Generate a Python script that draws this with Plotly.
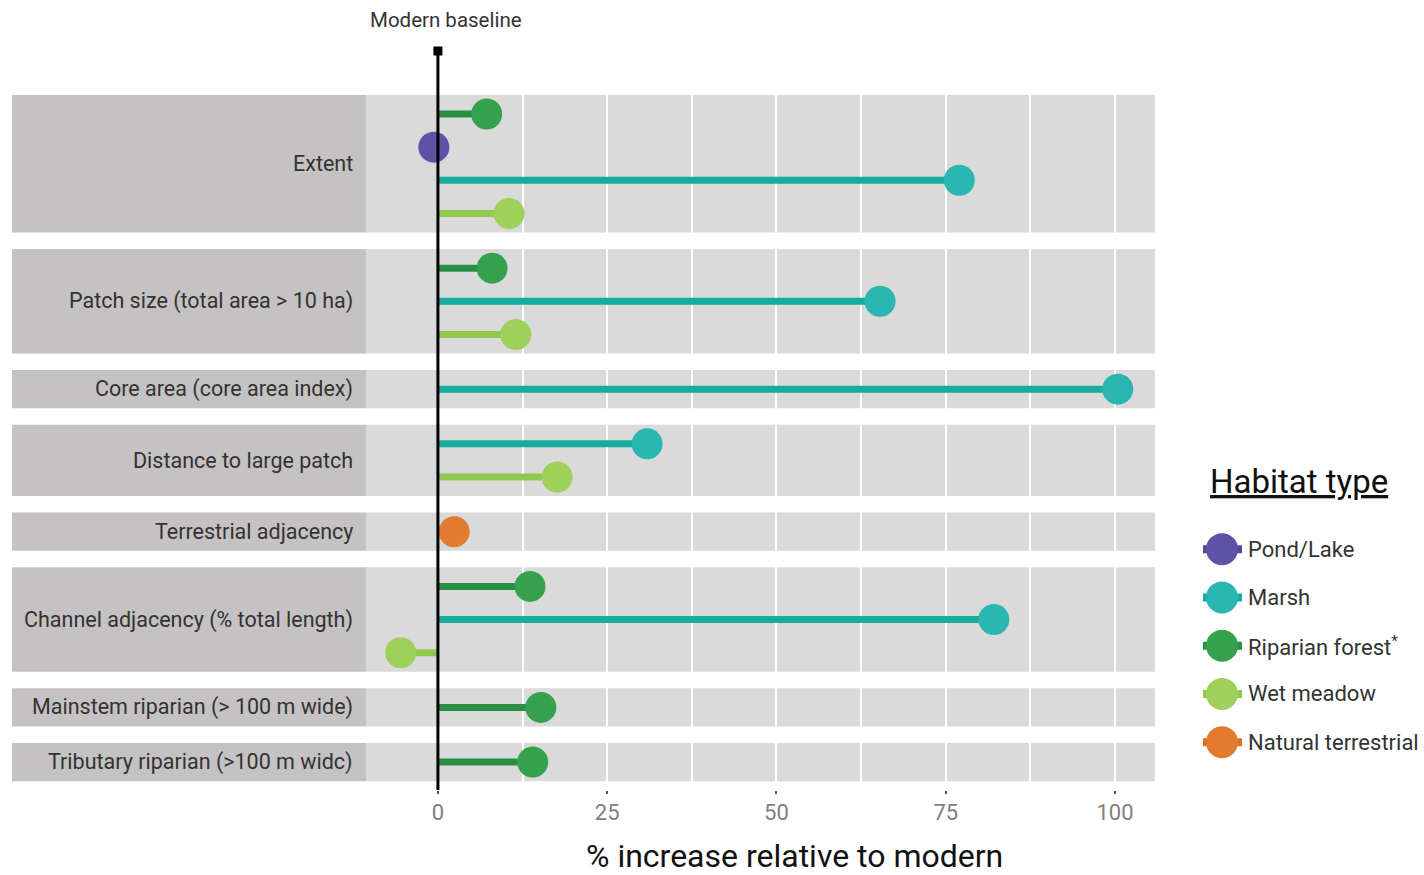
import plotly.graph_objects as go

# ---- data -------------------------------------------------------------
metrics = [
    "Extent",
    "Patch size (total area > 10 ha)",
    "Core area (core area index)",
    "Distance to large patch",
    "Terrestrial adjacency",
    "Channel adjacency (% total length)",
    "Mainstem riparian (> 100 m wide)",
    "Tributary riparian (>100 m widc)",
]

habitats = ["Pond/Lake", "Marsh", "Riparian forest*", "Wet meadow", "Natural terrestrial"]
legend_labels = ["Pond/Lake", "Marsh", "Riparian forest<sup>*</sup>", "Wet meadow", "Natural terrestrial"]

# habitats shown within each metric (top to bottom) and their % increase
metric_habitats = [
    ["Riparian forest*", "Pond/Lake", "Marsh", "Wet meadow"],
    ["Riparian forest*", "Marsh", "Wet meadow"],
    ["Marsh"],
    ["Marsh", "Wet meadow"],
    ["Natural terrestrial"],
    ["Riparian forest*", "Marsh", "Wet meadow"],
    ["Riparian forest*"],
    ["Riparian forest*"],
]
metric_values = [
    [7.2, -0.6, 77.0, 10.5],
    [8.0, 65.3, 11.5],
    [100.4],
    [30.9, 17.6],
    [2.4],
    [13.6, 82.1, -5.5],
    [15.2],
    [14.0],
]

x_ticks = [0, 25, 50, 75, 100]
x_minor = [12.5, 37.5, 62.5, 87.5]

# ---- styling ----------------------------------------------------------
line_colors = {
    "Pond/Lake": "#55479c",
    "Marsh": "#17ad9d",
    "Riparian forest*": "#2a8f45",
    "Wet meadow": "#93c84f",
    "Natural terrestrial": "#df7222",
}
marker_colors = {
    "Pond/Lake": "#5d52a6",
    "Marsh": "#2bb7b1",
    "Riparian forest*": "#36a14c",
    "Wet meadow": "#a0d05c",
    "Natural terrestrial": "#e37b2e",
}

FONT = "Roboto, Noto Sans, sans-serif"

W, H = 1424, 875
M_L, M_R, M_T, M_B = 12, 4, 40, 85
PAPER_W = W - M_L - M_R
PAPER_H = H - M_T - M_B
PANEL_RIGHT_PX = 1155          # right edge of the chart panel
X_MIN, X_MAX = -62.9, 105.9    # x range of the main panel
LABEL_EDGE = -10.6             # boundary between label strip and plot strip

ROW = 1.0
GAP = 1.65
PAD = 0.576
ROW_PX = 33.15
FIRST_ROW_PX = 114

# row positions for each metric group
positions = []
y = 0.0
for hs in metric_habitats:
    grp = []
    for i, _ in enumerate(hs):
        grp.append(y)
        y += ROW
    y += GAP - ROW
    positions.append(grp)

y_top = -(FIRST_ROW_PX - M_T) / ROW_PX
y_bot = (H - M_B - FIRST_ROW_PX) / ROW_PX

fig = go.Figure()

# stems
for h in habitats:
    xs, ys = [], []
    for hs, vals, pos in zip(metric_habitats, metric_values, positions):
        for name, v, p in zip(hs, vals, pos):
            if name == h:
                xs += [0, v, None]
                ys += [p, p, None]
    fig.add_trace(go.Scatter(
        x=xs, y=ys, mode="lines",
        line=dict(color=line_colors[h], width=7),
        hoverinfo="skip", showlegend=False,
    ))

# dots
for h in habitats:
    xs, ys = [], []
    for hs, vals, pos in zip(metric_habitats, metric_values, positions):
        for name, v, p in zip(hs, vals, pos):
            if name == h:
                xs.append(v)
                ys.append(p)
    fig.add_trace(go.Scatter(
        x=xs, y=ys, mode="markers", name=h,
        marker=dict(color=marker_colors[h], size=31, line=dict(width=0)),
        showlegend=False,
    ))

# modern baseline
base_top = y_top + (51 - M_T) / ROW_PX
fig.add_trace(go.Scatter(
    x=[0, 0], y=[base_top, y_bot], mode="lines",
    line=dict(color="black", width=3), hoverinfo="skip", showlegend=False,
))
fig.add_trace(go.Scatter(
    x=[0], y=[base_top], mode="markers",
    marker=dict(symbol="square", color="black", size=9),
    hoverinfo="skip", showlegend=False,
))

# group strips and labels
shapes = []
annotations = []
for name, pos in zip(metrics, positions):
    y0, y1 = pos[0] - PAD, pos[-1] + PAD
    shapes.append(dict(type="rect", xref="x", yref="y", x0=LABEL_EDGE, x1=X_MAX,
                       y0=y0, y1=y1, fillcolor="#dadada", line=dict(width=0),
                       layer="below"))
    shapes.append(dict(type="rect", xref="x", yref="y", x0=X_MIN, x1=LABEL_EDGE,
                       y0=y0, y1=y1, fillcolor="#c4c2c2", line=dict(width=0),
                       layer="between"))
    annotations.append(dict(
        x=LABEL_EDGE, y=(pos[0] + pos[-1]) / 2, xref="x", yref="y",
        text=name, showarrow=False, xanchor="right", yanchor="middle",
        xshift=-11, font=dict(family=FONT, size=21.5, color="#333333"),
    ))

annotations.append(dict(
    x=1.2, y=1, xref="x", yref="paper", yshift=20, text="Modern baseline",
    showarrow=False, xanchor="center", yanchor="middle",
    font=dict(family=FONT, size=20.5, color="#333333"),
))
annotations.append(dict(
    x=(794 - M_L) / PAPER_W, y=(H - M_B - 856) / PAPER_H, xref="paper", yref="paper",
    text="% increase relative to modern", showarrow=False,
    xanchor="center", yanchor="middle",
    font=dict(family=FONT, size=32, color="#111111"),
))
annotations.append(dict(
    x=(1299 - M_L) / PAPER_W, y=(H - M_B - 481) / PAPER_H, xref="paper", yref="paper",
    text="Habitat type", showarrow=False, xanchor="center", yanchor="middle",
    font=dict(family=FONT, size=33, color="#111111", lineposition="under"),
))

# legend drawn on its own small axes
LEG_X0, LEG_X1 = 1198, 1246
LEG_TOP, LEG_STEP = 525, 48.25
leg_dom_y = [(H - M_B - (LEG_TOP + 5 * LEG_STEP)) / PAPER_H, (H - M_B - LEG_TOP) / PAPER_H]
for i, h in enumerate(habitats):
    fig.add_trace(go.Scatter(
        x=[5, 44], y=[i, i], mode="lines", xaxis="x2", yaxis="y2",
        line=dict(color=line_colors[h], width=8), hoverinfo="skip", showlegend=False,
    ))
    fig.add_trace(go.Scatter(
        x=[24], y=[i], mode="markers", xaxis="x2", yaxis="y2",
        marker=dict(color=marker_colors[h], size=32, line=dict(width=0)),
        hoverinfo="skip", showlegend=False,
    ))
    annotations.append(dict(
        x=48, y=i, xref="x2", yref="y2", text=legend_labels[i], showarrow=False,
        xanchor="left", yanchor="middle",
        font=dict(family=FONT, size=22, color="#333333"),
    ))

fig.update_layout(
    width=W, height=H,
    margin=dict(l=M_L, r=M_R, t=M_T, b=M_B),
    paper_bgcolor="white", plot_bgcolor="white",
    shapes=shapes, annotations=annotations,
    showlegend=False,
    xaxis=dict(
        domain=[0, (PANEL_RIGHT_PX - M_L) / PAPER_W],
        range=[X_MIN, X_MAX], tickmode="array", tickvals=x_ticks,
        ticktext=[str(t) for t in x_ticks],
        showgrid=True, gridcolor="white", gridwidth=2,
        zeroline=False, showline=False,
        ticks="outside", ticklen=3, tickwidth=2, tickcolor="#555555",
        tickfont=dict(family=FONT, size=22, color="#808080"),
        minor=dict(tickmode="array", tickvals=x_minor, showgrid=True,
                   gridcolor="white", gridwidth=2, ticks=""),
        fixedrange=True,
    ),
    yaxis=dict(
        range=[y_bot, y_top], showgrid=False, zeroline=False,
        showticklabels=False, showline=False, fixedrange=True,
    ),
    xaxis2=dict(
        domain=[(LEG_X0 - M_L) / PAPER_W, (LEG_X1 - M_L) / PAPER_W],
        range=[0, LEG_X1 - LEG_X0], visible=False, fixedrange=True,
        anchor="y2",
    ),
    yaxis2=dict(
        domain=leg_dom_y, range=[4.5, -0.5], visible=False, fixedrange=True,
        anchor="x2",
    ),
)

fig.write_html("out.html")
